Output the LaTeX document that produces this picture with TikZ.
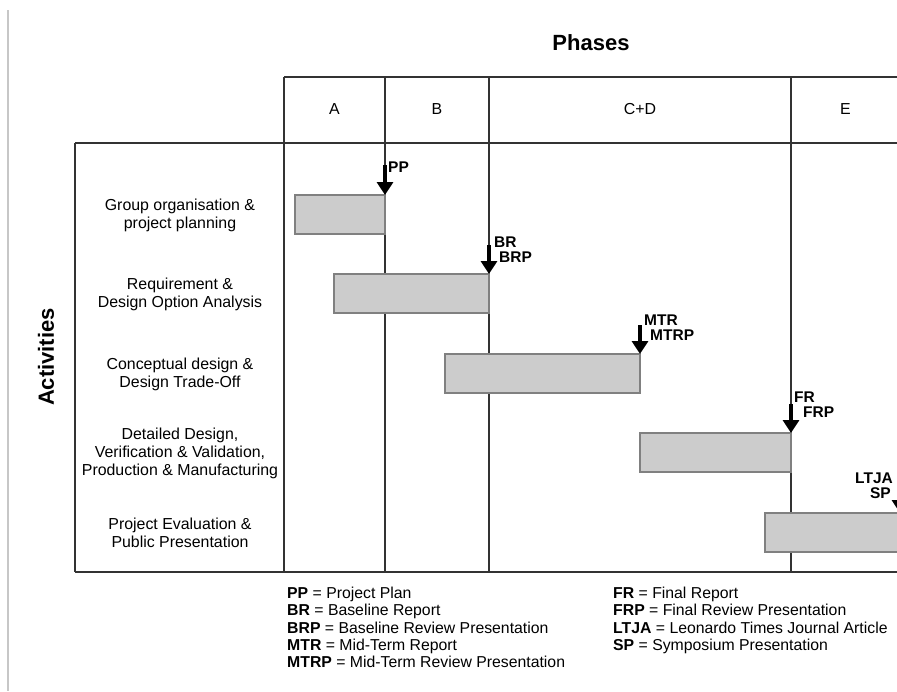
\documentclass[tikz,border=0pt]{standalone}
\usepackage{fontspec}
\setmainfont{Liberation Sans}
\usetikzlibrary{arrows.meta}
\begin{document}
\begin{tikzpicture}[x=1pt,y=-1pt,
  grid/.style={draw=black!80, line width=1.3pt},
  edge/.style={draw=black!22, line width=1.5pt},
  bar/.style={draw=black!50, fill=black!20, line width=1.2pt, inner sep=0pt, outer sep=0pt, minimum height=39pt},
  mile/.style={line width=3.5pt, -{Triangle[width=16pt,length=13pt]}},
  mlab/.style={font=\fontsize{15.5}{17}\selectfont\bfseries, inner sep=0pt},
  act/.style={font=\fontsize{15.9}{18}\selectfont, align=center, inner sep=0pt},
  phase/.style={font=\fontsize{15.9}{18}\selectfont, inner sep=0pt},
  leg/.style={font=\fontsize{15.8}{17}\selectfont, inner sep=0pt, anchor=base west},
  title/.style={font=\fontsize{22}{26}\selectfont\bfseries, inner sep=0pt}
]
\useasboundingbox (0,0) rectangle (897,691);
\clip (0,0) rectangle (897,691);

% left page edge
\draw[edge] (8,10) -- (8,691);

% titles
\node[title] (phases) at (591,43) {Phases};
\node[title, rotate=90] (activities) at (46,357) {Activities};

% grid
\draw[grid] (284,77) -- (910,77);
\draw[grid] (75,143) -- (910,143);
\draw[grid] (75,572) -- (910,572);
\draw[grid] (75,143) -- (75,572);
\draw[grid] (284,77) -- (284,572);
\draw[grid] (385,77) -- (385,572);
\draw[grid] (489,77) -- (489,572);
\draw[grid] (791,77) -- (791,572);

% phase labels
\node[phase] (pA) at (334.5,109) {A};
\node[phase] (pB) at (437,109) {B};
\node[phase] (pCD) at (640,109) {C+D};
\node[phase] (pE) at (845.5,109) {E};

% activity labels
\node[act] (a1) at (180,215) {Group organisation \&\\project planning};
\node[act] (a2) at (180,294) {Requirement \&\\Design Option Analysis};
\node[act] (a3) at (180,374) {Conceptual design \&\\Design Trade-Off};
\node[act] (a4) at (180,453) {Detailed Design,\\Verification \& Validation,\\Production \& Manufacturing};
\node[act] (a5) at (180,533) {Project Evaluation \&\\Public Presentation};

% bars
\node[bar, minimum width=90pt] (bar1) at (340,214.5) {};
\node[bar, minimum width=155pt] (bar2) at (411.5,293.5) {};
\node[bar, minimum width=195pt] (bar3) at (542.5,373.5) {};
\node[bar, minimum width=151pt] (bar4) at (715.5,452.5) {};
\node[bar, minimum width=170pt] (bar5) at (850,532.5) {};

% milestones
\coordinate (pptop) at (385,165);
\coordinate (brtop) at (489,245);
\coordinate (mtrtop) at (640,325);
\coordinate (frtop) at (791,404);
\coordinate (sptop) at (900,484);
\draw[mile] (pptop) -- (bar1.north east);
\draw[mile] (brtop) -- (bar2.north east);
\draw[mile] (mtrtop) -- (bar3.north east);
\draw[mile] (frtop) -- (bar4.north east);
\draw[mile] (sptop) -- (sptop |- bar5.north);

\node[mlab, anchor=west] (lpp) at (388,167.5) {PP};
\node[mlab, anchor=west] (lbr) at (494,242) {BR};
\node[mlab, anchor=west] (lbrp) at (499,257.5) {BRP};
\node[mlab, anchor=west] (lmtr) at (644,320) {MTR};
\node[mlab, anchor=west] (lmtrp) at (650,335) {MTRP};
\node[mlab, anchor=west] (lfr) at (794,397) {FR};
\node[mlab, anchor=west] (lfrp) at (803,412) {FRP};
\node[mlab, anchor=east] (lltja) at (893,478) {LTJA};
\node[mlab, anchor=east] (lsp) at (891,493) {SP};

% legend
\node[leg] (g1) at (287,598.5) {\textbf{PP} = Project Plan};
\node[leg] (g2) at (287,615.7) {\textbf{BR} = Baseline Report};
\node[leg] (g3) at (287,633) {\textbf{BRP} = Baseline Review Presentation};
\node[leg] (g4) at (287,650.2) {\textbf{MTR} = Mid-Term Report};
\node[leg] (g5) at (287,667.5) {\textbf{MTRP} = Mid-Term Review Presentation};
\node[leg] (g6) at (613,598.5) {\textbf{FR} = Final Report};
\node[leg] (g7) at (613,615.7) {\textbf{FRP} = Final Review Presentation};
\node[leg] (g8) at (613,633) {\textbf{LTJA} = Leonardo Times Journal Article};
\node[leg] (g9) at (613,650.2) {\textbf{SP} = Symposium Presentation};
\end{tikzpicture}
\end{document}
